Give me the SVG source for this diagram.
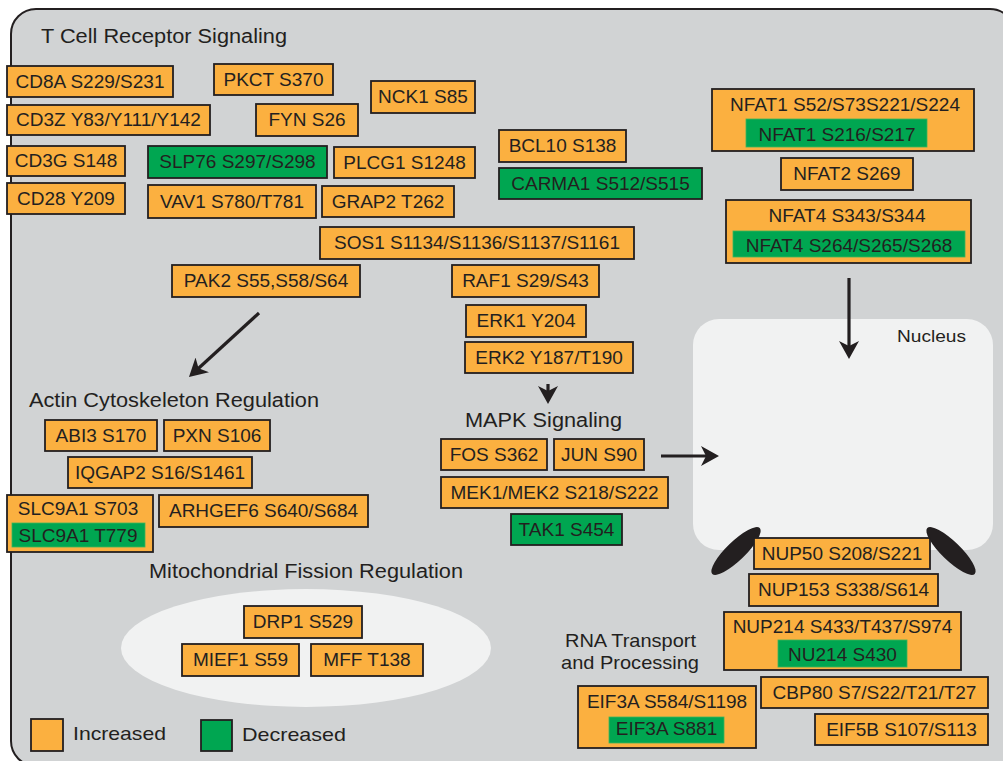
<svg xmlns="http://www.w3.org/2000/svg" width="1003" height="761" viewBox="0 0 1003 761">
<style>
text{font-family:"Liberation Sans",Arial,sans-serif;fill:#231f20}
.lbl{font-size:19px;text-anchor:middle}
.hd{font-size:19.5px}
.inc{fill:#fbb040;stroke:#231f20;stroke-width:1.8}
.dec{fill:#00a651;stroke:#231f20;stroke-width:1.8}
.decin{fill:#00a651;stroke:#3fb55a;stroke-width:0.8}
.arr{stroke:#231f20;stroke-width:3.2;fill:none;marker-end:url(#ah)}
</style>
<defs>
<marker id="ah" markerUnits="userSpaceOnUse" viewBox="0 0 18 20" markerWidth="18" markerHeight="20" refX="12" refY="10" orient="auto">
<path d="M0,0 L18,10 L0,20 L5,10 z" fill="#231f20"/>
</marker>
</defs>
<rect id="cell" x="11" y="9" width="1004" height="757" rx="25" fill="#d1d3d4" stroke="#231f20" stroke-width="2"/>
<g id="headings">
<text class="hd" x="41" y="43" font-size="20" textLength="246" lengthAdjust="spacingAndGlyphs" style="font-size:20px">T Cell Receptor Signaling</text>
<text class="hd" x="29" y="407" textLength="290" lengthAdjust="spacingAndGlyphs">Actin Cytoskeleton Regulation</text>
<text class="hd" x="465" y="427" textLength="157" lengthAdjust="spacingAndGlyphs">MAPK Signaling</text>
<text class="hd" x="149" y="578" textLength="314" lengthAdjust="spacingAndGlyphs">Mitochondrial Fission Regulation</text>
<text class="hd" x="565" y="647" textLength="131" lengthAdjust="spacingAndGlyphs" style="font-size:19px">RNA Transport</text>
<text class="hd" x="561" y="669" textLength="138" lengthAdjust="spacingAndGlyphs" style="font-size:19px">and Processing</text>
</g>
<g id="mito-compartment"><ellipse cx="306" cy="648" rx="185" ry="59" fill="#f1f2f2"/></g>
<g id="nucleus">
<rect x="693" y="319" width="300" height="231" rx="26" fill="#f1f2f2"/>
<text x="897" y="342" style="font-size:17px" textLength="69" lengthAdjust="spacingAndGlyphs">Nucleus</text>
<ellipse cx="736" cy="551" rx="33" ry="9.5" transform="rotate(-44 736 551)" fill="#231f20"/>
<ellipse cx="951" cy="551" rx="33" ry="9.5" transform="rotate(44 951 551)" fill="#231f20"/>
</g>
<g id="connectors">
<line class="arr" x1="259" y1="313" x2="193.4" y2="373"/>
<line class="arr" x1="548" y1="384" x2="548" y2="398"/>
<line class="arr" x1="661" y1="456" x2="713" y2="456"/>
<line class="arr" x1="849" y1="278" x2="849" y2="353"/>
</g>
<g id="CD8A"><rect class="inc" x="7" y="66" width="166" height="31"/><text class="lbl" x="90" y="87.5">CD8A S229/S231</text></g>
<g id="PKCT"><rect class="inc" x="214" y="64" width="119" height="31"/><text class="lbl" x="273.5" y="85.5">PKCT S370</text></g>
<g id="NCK1"><rect class="inc" x="371" y="81" width="104" height="32"/><text class="lbl" x="423" y="103">NCK1 S85</text></g>
<g id="CD3Z"><rect class="inc" x="7" y="105" width="203" height="30"/><text class="lbl" x="108.5" y="126">CD3Z Y83/Y111/Y142</text></g>
<g id="FYN"><rect class="inc" x="256" y="104" width="102" height="32"/><text class="lbl" x="307" y="126">FYN S26</text></g>
<g id="CD3G"><rect class="inc" x="7" y="146" width="118" height="30"/><text class="lbl" x="66" y="167">CD3G S148</text></g>
<g id="SLP76"><rect class="dec" x="148" y="146" width="179" height="32"/><text class="lbl" x="237.5" y="168">SLP76 S297/S298</text></g>
<g id="PLCG1"><rect class="inc" x="334" y="147" width="141" height="31"/><text class="lbl" x="404.5" y="168.5">PLCG1 S1248</text></g>
<g id="BCL10"><rect class="inc" x="499" y="130" width="127" height="32"/><text class="lbl" x="562.5" y="152">BCL10 S138</text></g>
<g id="CARMA1"><rect class="dec" x="499" y="168" width="203" height="31"/><text class="lbl" x="600.5" y="189.5">CARMA1 S512/S515</text></g>
<g id="CD28"><rect class="inc" x="7" y="183" width="118" height="31"/><text class="lbl" x="66" y="204.5">CD28 Y209</text></g>
<g id="VAV1"><rect class="inc" x="148" y="185" width="168" height="33"/><text class="lbl" x="232" y="207.5">VAV1 S780/T781</text></g>
<g id="GRAP2"><rect class="inc" x="322" y="186" width="132" height="31"/><text class="lbl" x="388" y="207.5">GRAP2 T262</text></g>
<g id="SOS1"><rect class="inc" x="320" y="227" width="314" height="32"/><text class="lbl" x="477" y="249">SOS1 S1134/S1136/S1137/S1161</text></g>
<g id="PAK2"><rect class="inc" x="172" y="265" width="188" height="32"/><text class="lbl" x="266" y="287">PAK2 S55,S58/S64</text></g>
<g id="RAF1"><rect class="inc" x="452" y="265" width="147" height="32"/><text class="lbl" x="525.5" y="287">RAF1 S29/S43</text></g>
<g id="ERK1"><rect class="inc" x="466" y="305" width="120" height="32"/><text class="lbl" x="526" y="327">ERK1 Y204</text></g>
<g id="ERK2"><rect class="inc" x="465" y="342" width="168" height="31"/><text class="lbl" x="549" y="363.5">ERK2 Y187/T190</text></g>
<g id="NFAT1"><rect class="inc" x="712" y="89" width="262" height="62"/><text class="lbl" x="845" y="111">NFAT1 S52/S73S221/S224</text><rect class="decin" x="746" y="119" width="181" height="28"/><text class="lbl" x="837" y="141">NFAT1 S216/S217</text></g>
<g id="NFAT2"><rect class="inc" x="781" y="158" width="132" height="32"/><text class="lbl" x="847" y="180">NFAT2 S269</text></g>
<g id="NFAT4"><rect class="inc" x="726" y="200" width="245" height="63"/><text class="lbl" x="847" y="222">NFAT4 S343/S344</text><rect class="decin" x="733" y="231" width="232" height="26"/><text class="lbl" x="849" y="252">NFAT4 S264/S265/S268</text></g>
<g id="ABI3"><rect class="inc" x="45" y="420" width="112" height="31"/><text class="lbl" x="101" y="441.5">ABI3 S170</text></g>
<g id="PXN"><rect class="inc" x="164" y="420" width="106" height="31"/><text class="lbl" x="217" y="441.5">PXN S106</text></g>
<g id="IQGAP2"><rect class="inc" x="68" y="457" width="184" height="31"/><text class="lbl" x="160" y="478.5">IQGAP2 S16/S1461</text></g>
<g id="SLC9A1"><rect class="inc" x="7" y="495" width="146" height="57"/><text class="lbl" x="78" y="515">SLC9A1 S703</text><rect class="decin" x="12" y="523" width="133" height="24"/><text class="lbl" x="78" y="542">SLC9A1 T779</text></g>
<g id="ARHGEF6"><rect class="inc" x="159" y="495" width="209" height="32"/><text class="lbl" x="263.5" y="517">ARHGEF6 S640/S684</text></g>
<g id="FOS"><rect class="inc" x="441" y="439" width="106" height="31"/><text class="lbl" x="494" y="460.5">FOS S362</text></g>
<g id="JUN"><rect class="inc" x="554" y="439" width="90" height="31"/><text class="lbl" x="599" y="460.5">JUN S90</text></g>
<g id="MEK"><rect class="inc" x="441" y="477" width="227" height="31"/><text class="lbl" x="554.5" y="498.5">MEK1/MEK2 S218/S222</text></g>
<g id="TAK1"><rect class="dec" x="511" y="514" width="111" height="31"/><text class="lbl" x="566.5" y="535.5">TAK1 S454</text></g>
<g id="NUP50"><rect class="inc" x="754" y="538" width="176" height="31"/><text class="lbl" x="842" y="559.5">NUP50 S208/S221</text></g>
<g id="NUP153"><rect class="inc" x="749" y="574" width="189" height="32"/><text class="lbl" x="843.5" y="596">NUP153 S338/S614</text></g>
<g id="NUP214"><rect class="inc" x="724" y="612" width="237" height="58"/><text class="lbl" x="842.5" y="633">NUP214 S433/T437/S974</text><rect class="decin" x="778" y="640" width="129" height="27"/><text class="lbl" x="842.5" y="661">NU214 S430</text></g>
<g id="CBP80"><rect class="inc" x="761" y="677" width="227" height="31"/><text class="lbl" x="874.5" y="698.5">CBP80 S7/S22/T21/T27</text></g>
<g id="EIF5B"><rect class="inc" x="815" y="714" width="173" height="31"/><text class="lbl" x="901.5" y="735.5">EIF5B S107/S113</text></g>
<g id="EIF3A"><rect class="inc" x="578" y="686" width="178" height="62"/><text class="lbl" x="667" y="708">EIF3A S584/S1198</text><rect class="decin" x="609" y="717" width="115" height="26"/><text class="lbl" x="666.5" y="735">EIF3A S881</text></g>
<g id="DRP1"><rect class="inc" x="244" y="606" width="118" height="32"/><text class="lbl" x="303" y="628">DRP1 S529</text></g>
<g id="MIEF1"><rect class="inc" x="182" y="644" width="117" height="32"/><text class="lbl" x="240.5" y="666">MIEF1 S59</text></g>
<g id="MFF"><rect class="inc" x="311" y="644" width="112" height="32"/><text class="lbl" x="367" y="666">MFF T138</text></g>
<g id="legend">
<rect class="inc" x="31" y="719" width="32" height="32"/>
<text x="73" y="740" style="font-size:19px" textLength="93" lengthAdjust="spacingAndGlyphs">Increased</text>
<rect class="dec" x="201" y="720" width="31" height="31"/>
<text x="242" y="741" style="font-size:19px" textLength="104" lengthAdjust="spacingAndGlyphs">Decreased</text>
</g>
</svg>
